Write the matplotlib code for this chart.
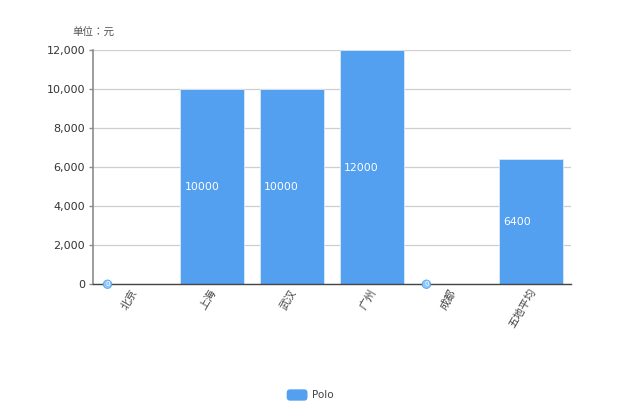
import matplotlib
matplotlib.use('Agg')
import matplotlib.pyplot as plt
from matplotlib.legend_handler import HandlerPatch
from matplotlib.patches import FancyBboxPatch, Patch
from matplotlib.transforms import ScaledTranslation

plt.rcParams['font.family'] = ['DejaVu Sans', 'Noto Sans CJK SC']

cities = ['北京', '上海', '武汉', '广州', '成都', '五地平均']
values = [0, 10000, 10000, 12000, 0, 6400]
yticks = [0, 2000, 4000, 6000, 8000, 10000, 12000]

W, H = 620, 413
bar_color = '#539ff0'
text_color = '#333333'


class RoundHandler(HandlerPatch):
    def create_artists(self, legend, orig_handle, xdescent, ydescent, width, height, fontsize, trans):
        box = FancyBboxPatch((-xdescent + 2, -ydescent + 2), width - 4, height - 4,
                             boxstyle='round,pad=2,rounding_size=2.5',
                             facecolor=bar_color, edgecolor='none', transform=trans)
        return [box]


fig = plt.figure(figsize=(W / 100, H / 100), dpi=100)
ax = fig.add_axes([92.6 / W, 1 - 284.2 / H, (571 - 92.6) / W, (284.2 - 49.7) / H])

x = list(range(len(cities)))
bars = ax.bar(x, values, width=0.8, color=bar_color, edgecolor='#dbe9fb', linewidth=0.6, zorder=3)
ax.set_xlim(-0.5, 5.5)
ax.set_ylim(0, 12000)

ax.set_yticks(yticks)
ax.set_yticklabels([f'{v:,}' for v in yticks], fontsize=8, color=text_color)
ax.set_xticks(x)
ax.set_xticklabels(cities, rotation=60, fontsize=7.8, color='#444444',
                   ha='right', va='center', rotation_mode='anchor')
ax.tick_params(axis='x', length=0, pad=4)
ax.tick_params(axis='y', length=3, width=1, color='#8c8c8c', pad=2.5)

# rotated labels sit a little to the right of the tick position
shift = ScaledTranslation(1.5 / 72, 0, fig.dpi_scale_trans)
for lab in ax.get_xticklabels():
    lab.set_transform(lab.get_transform() + shift)

ax.grid(axis='y', color='#cfcfcf', linewidth=0.9, zorder=0)
ax.set_axisbelow(True)
for s in ['top', 'right']:
    ax.spines[s].set_visible(False)
ax.spines['left'].set_color('#8c8c8c')
ax.spines['left'].set_linewidth(1.2)
ax.spines['bottom'].set_color('#444444')
ax.spines['bottom'].set_linewidth(1.0)
ax.spines['bottom'].set_zorder(4)

# labels sit at the inside left of each bar, halfway up
for b, v in zip(bars, values):
    if v == 0:
        ax.annotate('0', (b.get_x(), 0), xytext=(5, 0), textcoords='offset points',
                    fontsize=5, color='white', ha='center', va='center', zorder=6,
                    annotation_clip=False,
                    bbox=dict(boxstyle='circle,pad=0.18', fc='#8cc4fb', ec='#4a9cf0', lw=0.5))
    else:
        ax.annotate(str(v), (b.get_x(), v / 2), xytext=(3, -0.5), textcoords='offset points',
                    color='white', fontsize=7.8, ha='left', va='center', zorder=5)

fig.text(72 / W, 1 - 32.5 / H, '单位：元', fontsize=7.6, color='#555555', ha='left', va='center',
         family=['Noto Sans CJK TC', 'DejaVu Sans'])

fig.legend(handles=[Patch(label='Polo')], handler_map={Patch: RoundHandler()},
           loc='center', bbox_to_anchor=(310 / W, 1 - 395 / H), frameon=False,
           fontsize=7.5, labelcolor='#444444', handlelength=2.0, handleheight=1.3, handletextpad=0.4)

fig.savefig('out.png', dpi=100)
